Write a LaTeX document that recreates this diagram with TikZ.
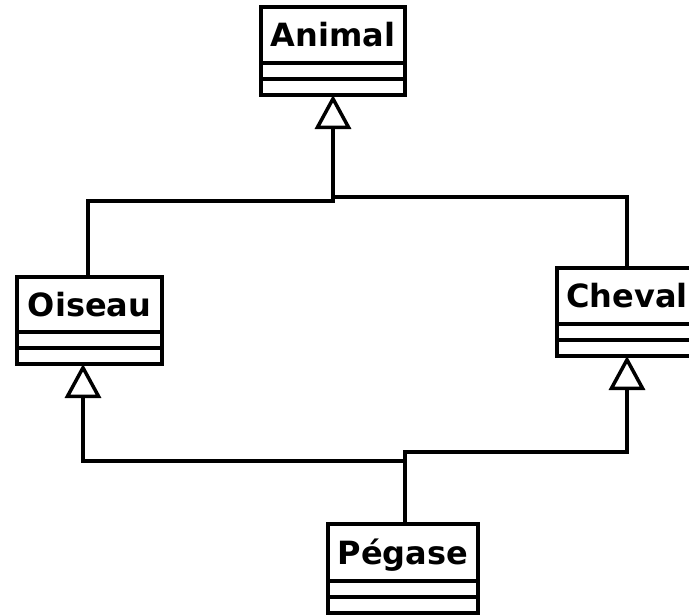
\documentclass[tikz,border=0pt]{standalone}
\usepackage{fontspec}
\setmainfont{DejaVu Sans}
\usetikzlibrary{arrows.meta}
\begin{document}
\begin{tikzpicture}[x=1pt,y=-1pt,line width=3.5pt,
  classname/.style={draw,line width=3.5pt,inner sep=0pt,outer sep=0pt,fill=white,
    font=\fontsize{32}{38}\selectfont\bfseries,text height=23pt,text depth=0pt},
  classbody/.style={draw,line width=3.5pt,inner sep=0pt,outer sep=0pt,minimum height=16pt,anchor=north},
  inh/.style={-{Triangle[open,length=34pt,width=36pt]},line width=3.5pt}]
\clip (0,0) rectangle (689,614);
% Animal
\node[classname,minimum width=144pt,minimum height=56pt] (animal) at (333,35) {Animal};
\node[classbody,minimum width=144pt] (animal1) at (animal.south) {};
\node[classbody,minimum width=144pt] (animal2) at (animal1.south) {};
% Oiseau
\node[classname,minimum width=145pt,minimum height=55pt] (oiseau) at (89.5,304.5) {Oiseau};
\node[classbody,minimum width=145pt] (oiseau1) at (oiseau.south) {};
\node[classbody,minimum width=145pt] (oiseau2) at (oiseau1.south) {};
% Cheval
\node[classname,minimum width=140pt,minimum height=56pt] (cheval) at (627,296) {Cheval};
\node[classbody,minimum width=140pt] (cheval1) at (cheval.south) {};
\node[classbody,minimum width=140pt] (cheval2) at (cheval1.south) {};
% Pegase
\node[classname,minimum width=150pt,minimum height=57pt] (pegase) at (403,552.5) {Pégase};
\node[classbody,minimum width=150pt] (pegase1) at (pegase.south) {};
\node[classbody,minimum width=150pt] (pegase2) at (pegase1.south) {};
% junctions
\coordinate (ja) at (333,201);
\coordinate (jb) at (333,197);
\coordinate (jp) at (405,452);
\coordinate (jq) at (405,461);
% connectors
\draw[inh] ([xshift=-1.5pt]oiseau.north) |- (ja) -- (animal2.south);
\draw (cheval.north) |- (jb);
\draw[inh] ([xshift=2pt]pegase.north) -- (jp) -| (cheval2.south);
\draw[inh] (jq) -| ([xshift=-6.5pt]oiseau2.south);
\end{tikzpicture}
\end{document}
